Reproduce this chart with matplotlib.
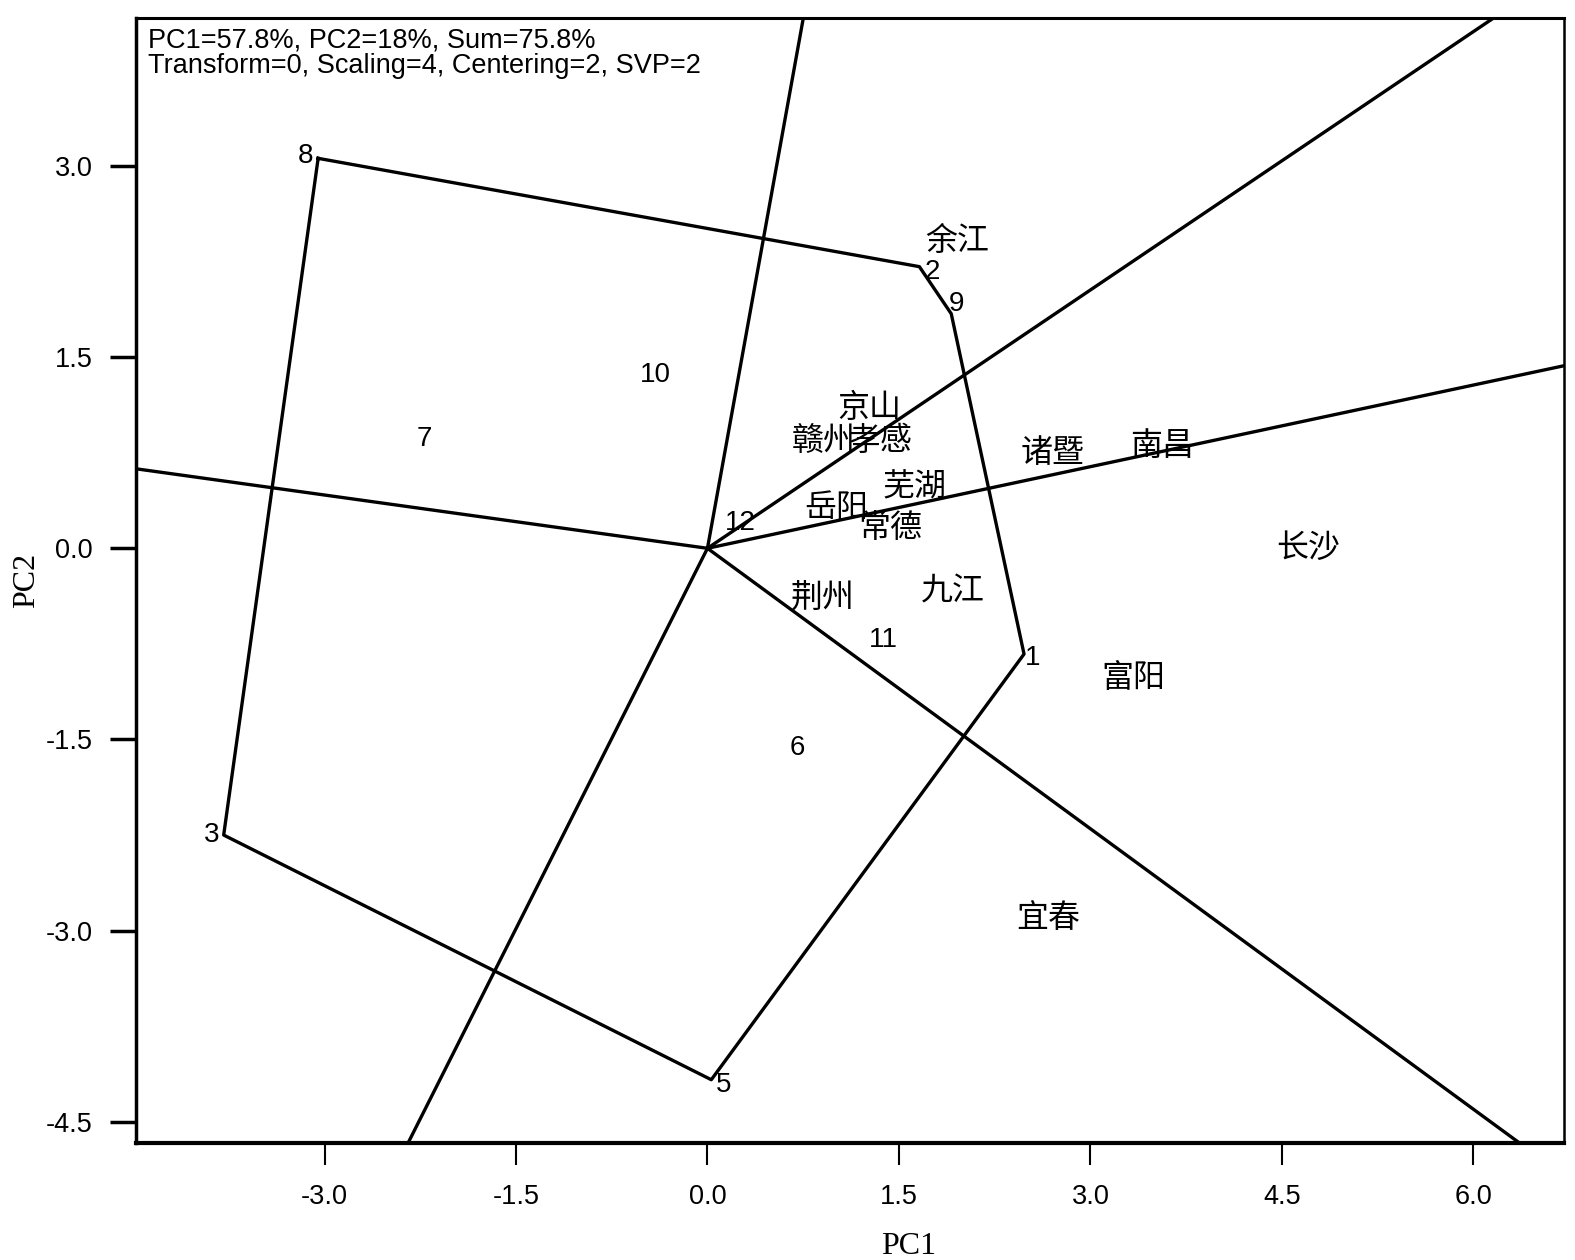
import numpy as np
import matplotlib
import matplotlib.pyplot as plt

matplotlib.use("Agg")

# genotype scores (PC1, PC2)
gen_labels = ["1", "2", "3", "5", "6", "7", "8", "9", "10", "11", "12"]
gen_pc1 = [2.48, 1.66, -3.79, 0.03, 0.70, -2.22, -3.05, 1.91, -0.41, 1.38, 0.26]
gen_pc2 = [-0.83, 2.21, -2.25, -4.17, -1.57, 0.86, 3.06, 1.84, 1.36, -0.72, 0.20]

# convex hull order (which-won-where polygon)
hull_order = ["8", "2", "9", "1", "5", "3"]

# environment scores
env_labels = ["余江", "京山", "赣州", "孝感", "诸暨", "南昌", "芜湖", "岳阳",
              "常德", "长沙", "荆州", "九江", "富阳", "宜春"]
env_pc1 = [1.96, 1.27, 0.91, 1.36, 2.70, 3.56, 1.62, 1.01,
           1.43, 4.71, 0.90, 1.92, 3.34, 2.67]
env_pc2 = [2.41, 1.10, 0.84, 0.84, 0.75, 0.80, 0.48, 0.32,
           0.16, 0.00, -0.39, -0.34, -1.02, -2.90]

info_text = "PC1=57.8%, PC2=18%, Sum=75.8%\nTransform=0, Scaling=4, Centering=2, SVP=2"

xticks = [-3.0, -1.5, 0.0, 1.5, 3.0, 4.5, 6.0]
yticks = [3.0, 1.5, 0.0, -1.5, -3.0, -4.5]

# label nudges (points) for hull vertices
label_shift = {"8": (-9, 2), "2": (9, -4), "9": (4, 7), "1": (6, -3),
               "5": (9, -4), "3": (-9, 0)}

XLIM = (-4.48, 6.71)
YLIM = (-4.67, 4.16)

fig = plt.figure(figsize=(15.75, 12.6), dpi=100)
ax = fig.add_axes([0.0861, 0.0925, 0.9069, 0.8931])

gx = dict(zip(gen_labels, gen_pc1))
gy = dict(zip(gen_labels, gen_pc2))
hx = np.array([gx[g] for g in hull_order])
hy = np.array([gy[g] for g in hull_order])

# polygon
ax.plot(np.append(hx, hx[0]), np.append(hy, hy[0]), color="black", lw=2.4,
        solid_joinstyle="round", zorder=3)

# rays from origin perpendicular to each polygon side
for i in range(len(hx)):
    x1, y1 = hx[i], hy[i]
    x2, y2 = hx[(i + 1) % len(hx)], hy[(i + 1) % len(hx)]
    d = np.array([y2 - y1, -(x2 - x1)])
    mid = np.array([(x1 + x2) / 2, (y1 + y2) / 2])
    if d @ mid < 0:
        d = -d
    d = d / np.hypot(*d)
    ax.plot([0, d[0] * 30], [0, d[1] * 30], color="black", lw=2.4, zorder=3)

# genotype labels
for g, x, y in zip(gen_labels, gen_pc1, gen_pc2):
    dx, dy = label_shift.get(g, (0, 0))
    ax.annotate(g, (x, y), xytext=(dx, dy), textcoords="offset points",
                ha="center", va="center", fontsize=20,
                family="Liberation Sans", zorder=4)

# environment labels
for e, x, y in zip(env_labels, env_pc1, env_pc2):
    ax.text(x, y, e, ha="center", va="center", fontsize=23,
            family=["Noto Sans CJK SC", "DejaVu Sans"], fontweight="light",
            zorder=4)

ax.text(0.009, 0.992, info_text, transform=ax.transAxes, ha="left", va="top",
        fontsize=19.5, family="Liberation Sans", linespacing=1.0)

ax.set_xlim(*XLIM)
ax.set_ylim(*YLIM)
ax.set_xticks(xticks)
ax.set_yticks(yticks)
ax.set_xticklabels([f"{v:.1f}" for v in xticks], family="Liberation Sans", fontsize=19.5)
ax.set_yticklabels([f"{v:.1f}" for v in yticks], family="Liberation Sans", fontsize=19.5)
ax.tick_params(axis="x", direction="out", length=16, width=1.5, pad=13)
ax.tick_params(axis="y", direction="out", length=19, width=2.5, pad=12)

ax.spines["left"].set_linewidth(2.5)
ax.spines["bottom"].set_linewidth(3)
ax.spines["top"].set_linewidth(2.2)
ax.spines["right"].set_linewidth(1.8)

ax.set_xlabel("PC1", family="Liberation Serif", fontsize=23)
ax.set_ylabel("PC2", family="Liberation Serif", fontsize=23)
ax.xaxis.set_label_coords(0.5415, -0.079)
ax.yaxis.set_label_coords(-0.066, 0.5)

fig.savefig("out.png", dpi=100)
